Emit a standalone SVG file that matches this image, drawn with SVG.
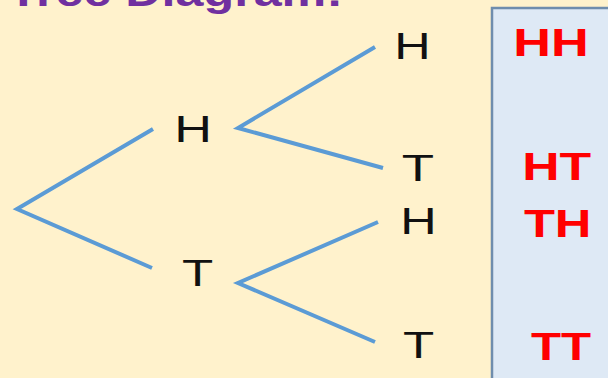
<svg xmlns="http://www.w3.org/2000/svg" width="608" height="378" viewBox="0 0 608 378">
<style>
.bg{fill:#FFF2CC}
.box{fill:#DEE9F5;stroke:#6F8DAD;stroke-width:2.5}
.br{fill:none;stroke:#5B9BD5;stroke-width:4;stroke-linejoin:miter;stroke-linecap:butt}
.lbl{font-family:"Liberation Sans",Arial,sans-serif;font-size:36px;fill:#111}
.res{font-family:"Liberation Sans",Arial,sans-serif;font-size:39px;font-weight:bold;fill:#FF0000}
.title{font-family:"Liberation Sans",Arial,sans-serif;font-size:40px;font-weight:bold;fill:#7030A0}
</style>
<rect class="bg" x="0" y="0" width="608" height="378"/>
<text class="title" x="8" y="6" textLength="335" lengthAdjust="spacingAndGlyphs">Tree Diagram:</text>
<g id="outcomes">
<rect class="box" x="492" y="8" width="130" height="380"/>
</g>
<g id="connectors">
<polyline class="br" points="153,129 17,209 152,268"/>
<polyline class="br" points="375,47 238,128 383,168"/>
<polyline class="br" points="378,222 238,283 375,342"/>
</g>
<g id="n-H1"><text class="lbl" x="174.2" y="142" textLength="37.7" lengthAdjust="spacingAndGlyphs">H</text></g>
<g id="n-T1"><text class="lbl" x="181.9" y="286" textLength="31.2" lengthAdjust="spacingAndGlyphs">T</text></g>
<g id="n-HH"><text class="lbl" x="394.3" y="59" textLength="36.4" lengthAdjust="spacingAndGlyphs">H</text></g>
<g id="n-HT"><text class="lbl" x="401.8" y="181" textLength="32.3" lengthAdjust="spacingAndGlyphs">T</text></g>
<g id="n-TH"><text class="lbl" x="400.3" y="234" textLength="36.4" lengthAdjust="spacingAndGlyphs">H</text></g>
<g id="n-TT"><text class="lbl" x="402.9" y="358" textLength="31.2" lengthAdjust="spacingAndGlyphs">T</text></g>
<g id="r-HH"><text class="res" x="513.2" y="56" textLength="75.5" lengthAdjust="spacingAndGlyphs">HH</text></g>
<g id="r-HT"><text class="res" x="522.2" y="180" textLength="68.9" lengthAdjust="spacingAndGlyphs">HT</text></g>
<g id="r-TH"><text class="res" x="523.9" y="237" textLength="67.6" lengthAdjust="spacingAndGlyphs">TH</text></g>
<g id="r-TT"><text class="res" x="530.9" y="360" textLength="60.1" lengthAdjust="spacingAndGlyphs">TT</text></g>
</svg>
